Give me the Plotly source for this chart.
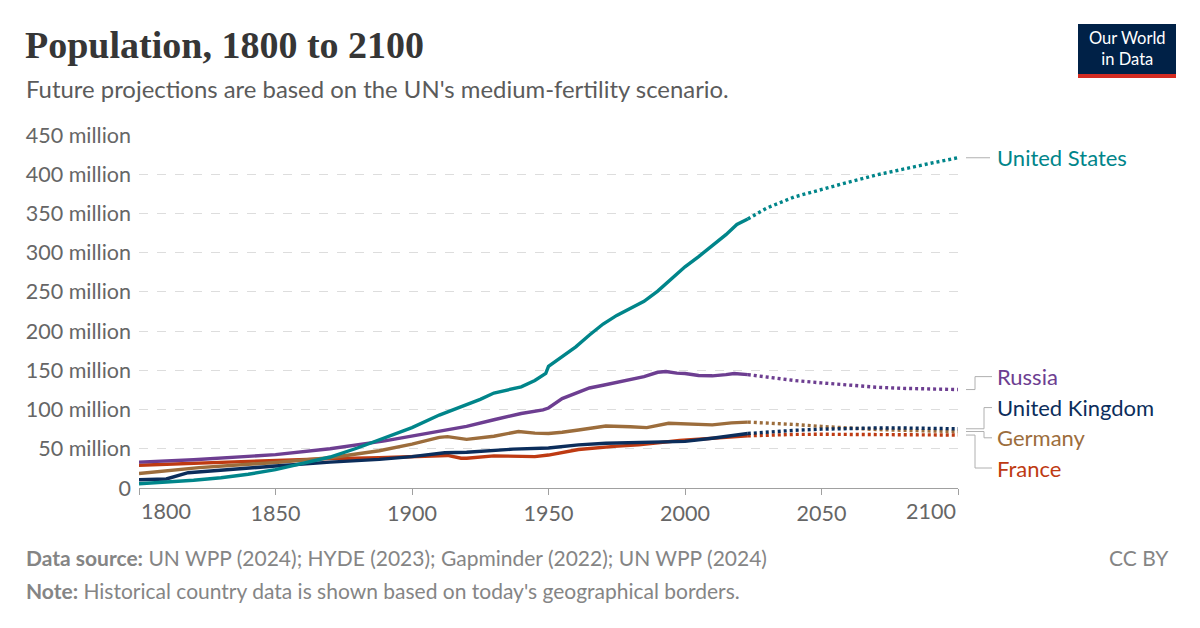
import plotly.graph_objects as go

# ---------------- data (population, millions) ----------------
us_years = [1800, 1810, 1820, 1830, 1840, 1850, 1860, 1870, 1880, 1890, 1900, 1910, 1920, 1925, 1930,
            1940, 1945, 1949, 1950, 1955, 1960, 1965, 1970, 1975, 1980, 1985, 1990, 1995, 2000, 2005,
            2010, 2015, 2019, 2023]
us_vals = [5.5, 7.3, 9.8, 13, 17.5, 23.5, 31.5, 39.5, 51, 64, 77, 93, 106, 113, 121,
           129, 137, 146, 155, 167, 180, 195, 209, 220, 229, 238, 251, 266, 282, 295,
           309, 323, 336, 343]
us_proj_years = [2023, 2030, 2040, 2050, 2060, 2070, 2080, 2090, 2100]
us_proj_vals = [343, 357, 371, 381, 390, 399, 407, 414, 421]

ru_years = [1800, 1820, 1850, 1870, 1890, 1900, 1910, 1920, 1930, 1940, 1948, 1950, 1955, 1960,
            1965, 1970, 1975, 1980, 1985, 1990, 1993, 1997, 2000, 2005, 2010, 2015, 2018, 2023]
ru_vals = [33, 36, 42.5, 50, 60, 66, 73, 78.5, 87, 95, 99.5, 102, 114, 121,
           127.5, 131, 134.5, 138.5, 142, 147.5, 148.5, 146.5, 146, 143.5, 143, 144.5, 146, 144.5]
ru_proj_years = [2023, 2030, 2040, 2050, 2060, 2070, 2080, 2090, 2100]
ru_proj_vals = [144.5, 141, 137, 134, 131, 128.5, 127, 126, 125.5]

de_years = [1800, 1822, 1850, 1870, 1888, 1900, 1910, 1913, 1920, 1925, 1930, 1939, 1945, 1950,
            1955, 1961, 1971, 1980, 1986, 1994, 2000, 2004, 2010, 2017, 2023]
de_vals = [18.5, 26, 32.5, 38.5, 47.5, 56, 64.5, 65.5, 62, 63.5, 66, 72, 70, 69.5,
           71, 74, 79, 78, 77, 82.5, 82, 81.8, 80.5, 83, 84]
de_proj_years = [2023, 2030, 2040, 2050, 2060, 2070, 2080, 2090, 2100]
de_proj_vals = [84, 83, 81, 78.5, 76, 74.5, 73.5, 72.5, 72]

uk_years = [1800, 1810, 1818, 1830, 1850, 1870, 1888, 1900, 1912, 1920, 1937, 1950, 1961, 1971,
            1980, 1990, 2000, 2010, 2020, 2023]
uk_vals = [10.5, 11.5, 19.5, 23, 28, 33, 36.5, 40, 45, 45.5, 49.5, 51, 55, 57,
           57.5, 58, 59.5, 63.5, 68, 69.5]
uk_proj_years = [2023, 2030, 2040, 2050, 2060, 2070, 2080, 2090, 2100]
uk_proj_vals = [69.5, 71.5, 73.5, 75, 76, 76.5, 76.5, 76, 75.5]

fr_years = [1800, 1820, 1850, 1870, 1888, 1900, 1907, 1913, 1918, 1920, 1930, 1939, 1945, 1950,
            1961, 1974, 1983, 1998, 2010, 2023]
fr_vals = [29, 31.5, 36, 37.5, 38.5, 40, 41.5, 41.5, 38, 38, 41, 40.5, 40, 42,
           49, 53, 55, 60.5, 63.5, 66.5]
fr_proj_years = [2023, 2030, 2040, 2050, 2060, 2070, 2080, 2090, 2100]
fr_proj_vals = [66.5, 67.5, 68.3, 68.5, 68.5, 68.3, 68, 67.7, 67.5]

y_ticks = [0, 50, 100, 150, 200, 250, 300, 350, 400, 450]
y_ticktext = ["0"] + [f"{v} million" for v in y_ticks[1:]]
x_ticks = [1800, 1850, 1900, 1950, 2000, 2050, 2100]
x_ticktext = ["", "1850", "1900", "1950", "2000", "2050", ""]

series = [
    ("France", fr_years, fr_vals, fr_proj_years, fr_proj_vals, "#BE3A12"),
    ("Germany", de_years, de_vals, de_proj_years, de_proj_vals, "#9C6D3C"),
    ("United Kingdom", uk_years, uk_vals, uk_proj_years, uk_proj_vals, "#0B2D5B"),
    ("Russia", ru_years, ru_vals, ru_proj_years, ru_proj_vals, "#6D3E91"),
    ("United States", us_years, us_vals, us_proj_years, us_proj_vals, "#00858A"),
]

# label positions (data units, millions)
label_y = {"United States": 421, "Russia": 142, "United Kingdom": 102.5,
           "Germany": 64, "France": 25.5}

W, H = 1200, 628
L, R, T, B = 139, 242, 135, 140
PW = W - L - R
PH = H - T - B


def px(xp):
    return (xp - L) / PW


def py(yp):
    return (H - B - yp) / PH


fig = go.Figure()
for name, yrs, vals, pyrs, pvals, col in series:
    fig.add_trace(go.Scatter(x=yrs, y=vals, mode="lines", name=name,
                             line=dict(color=col, width=3.4), hoverinfo="skip"))
    fig.add_trace(go.Scatter(x=pyrs, y=pvals, mode="lines", name=name + " proj",
                             line=dict(color=col, width=3.4, dash="3px,3px"), hoverinfo="skip"))

shapes = []
annotations = []
conn_col = "#b0b0b0"
elbow = {"United States": None, "Russia": 975, "United Kingdom": 984,
         "Germany": 984, "France": 975}
for name, yrs, vals, pyrs, pvals, col in series:
    end_v = pvals[-1]
    ly = label_y[name]
    ex = elbow[name]
    if ex is None:
        shapes.append(dict(type="line", xref="paper", yref="y", x0=px(966), x1=px(990),
                           y0=end_v, y1=end_v, line=dict(color=conn_col, width=1)))
    else:
        shapes.append(dict(type="line", xref="paper", yref="y", x0=px(966), x1=px(ex),
                           y0=end_v, y1=end_v, line=dict(color=conn_col, width=1)))
        shapes.append(dict(type="line", xref="paper", yref="y", x0=px(ex), x1=px(ex),
                           y0=end_v, y1=ly, line=dict(color=conn_col, width=1)))
        shapes.append(dict(type="line", xref="paper", yref="y", x0=px(ex), x1=px(992),
                           y0=ly, y1=ly, line=dict(color=conn_col, width=1)))
    annotations.append(dict(text=name, xref="paper", yref="y", x=px(995), y=ly,
                            xanchor="left", yanchor="middle", showarrow=False,
                            font=dict(family="Lato", size=22, color=col)))

# edge x tick labels (aligned inward like the reference)
tickfont = dict(family="Lato", size=21.5, color="#666666")
annotations += [
    dict(text="1800", xref="x", yref="paper", x=1800, y=py(496), xanchor="left", yanchor="top",
         showarrow=False, font=tickfont),
    dict(text="2100", xref="x", yref="paper", x=2100, y=py(496), xanchor="right", yanchor="top",
         showarrow=False, font=tickfont),
]

# title, subtitle, footer
annotations += [
    dict(text="<b>Population, 1800 to 2100</b>", xref="paper", yref="paper", x=px(23), y=py(45),
         xanchor="left", yanchor="middle", showarrow=False,
         font=dict(family="Liberation Serif", size=38, color="#363636")),
    dict(text="Future projections are based on the UN's medium-fertility scenario.",
         xref="paper", yref="paper", x=px(24), y=py(89), xanchor="left", yanchor="middle",
         showarrow=False, font=dict(family="Lato", size=23.9, color="#5b5b5b")),
    dict(text="<b>Data source:</b> UN WPP (2024); HYDE (2023); Gapminder (2022); UN WPP (2024)",
         xref="paper", yref="paper", x=px(24), y=py(557), xanchor="left", yanchor="middle",
         showarrow=False, font=dict(family="Lato", size=21, color="#858585")),
    dict(text="<b>Note:</b> Historical country data is shown based on today's geographical borders.",
         xref="paper", yref="paper", x=px(24), y=py(590), xanchor="left", yanchor="middle",
         showarrow=False, font=dict(family="Lato", size=21, color="#858585")),
    dict(text="CC BY", xref="paper", yref="paper", x=px(1171), y=py(557), xanchor="right",
         yanchor="middle", showarrow=False, font=dict(family="Lato", size=21, color="#858585")),
    dict(text="Our World<br>in Data", xref="paper", yref="paper", x=px(1127), y=py(49),
         xanchor="center", yanchor="middle", showarrow=False,
         font=dict(family="Lato", size=16.5, color="white")),
]

# logo box
shapes += [
    dict(type="rect", xref="paper", yref="paper", x0=px(1078), x1=px(1176), y0=py(24), y1=py(74),
         fillcolor="#002147", line=dict(width=0), layer="below"),
    dict(type="rect", xref="paper", yref="paper", x0=px(1078), x1=px(1176), y0=py(74), y1=py(78),
         fillcolor="#D42B21", line=dict(width=0), layer="below"),
]

fig.update_layout(
    width=W, height=H,
    margin=dict(l=L, r=R, t=T, b=B, pad=0),
    paper_bgcolor="white", plot_bgcolor="white",
    showlegend=False, hovermode=False,
    font=dict(family="Lato", color="#666666"),
    shapes=shapes, annotations=annotations,
    xaxis=dict(range=[1800, 2100], tickvals=x_ticks, ticktext=x_ticktext, showgrid=False,
               zeroline=False, showline=True, linecolor="#a0a0a0", linewidth=1,
               ticks="outside", ticklen=6, tickcolor="#a0a0a0", tickfont=tickfont),
    yaxis=dict(range=[0, 450], tickvals=y_ticks, ticktext=y_ticktext, showgrid=True,
               gridcolor="#dddddd", griddash="dash", gridwidth=1, zeroline=False,
               showline=False, ticks="", ticklabelstandoff=7, tickfont=tickfont),
)

fig.write_html("out.html", config={"displayModeBar": False},
               post_script="document.body.style.margin='0';")
